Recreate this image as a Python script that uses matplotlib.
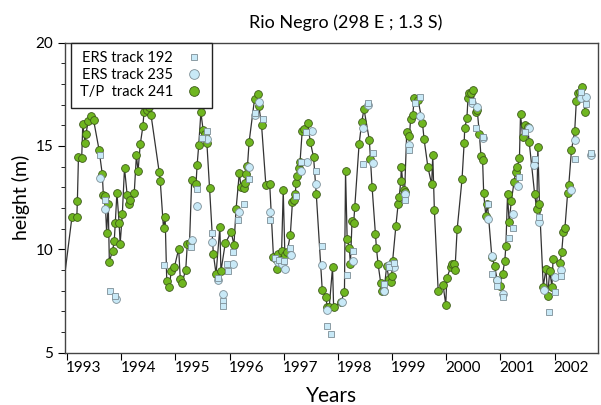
import matplotlib.pyplot as plt
from matplotlib.ticker import MultipleLocator, FixedLocator, NullFormatter, FixedFormatter

plt.rcParams['font.family'] = ['Lato', 'DejaVu Sans']

# T/P track 241 (decimal year, height m)
tp_year = [1992.92, 1993.09, 1993.18, 1993.19, 1993.21, 1993.27, 1993.29, 1993.33, 1993.35,
           1993.39, 1993.44, 1993.49, 1993.59, 1993.65, 1993.67, 1993.70, 1993.73, 1993.76,
           1993.78, 1993.84, 1993.87, 1993.89, 1993.92, 1993.96, 1993.98, 1994.02, 1994.06,
           1994.11, 1994.14, 1994.17, 1994.24, 1994.28, 1994.31, 1994.35, 1994.40, 1994.42,
           1994.47, 1994.52, 1994.55, 1994.70, 1994.72, 1994.78, 1994.81, 1994.84, 1994.89,
           1994.92, 1994.98, 1995.06, 1995.09, 1995.12, 1995.19, 1995.22, 1995.26, 1995.30,
           1995.38, 1995.40, 1995.43, 1995.47, 1995.51, 1995.54, 1995.58, 1995.63, 1995.70,
           1995.75, 1995.82, 1995.84, 1995.92, 1996.03, 1996.08, 1996.12, 1996.18, 1996.21,
           1996.26, 1996.29, 1996.31, 1996.33, 1996.36, 1996.46, 1996.52, 1996.54, 1996.59,
           1996.67, 1996.74, 1996.81, 1996.85, 1996.87, 1996.89, 1996.94, 1996.96, 1996.99,
           1997.02, 1997.06, 1997.12, 1997.16, 1997.18, 1997.21, 1997.23, 1997.25, 1997.28,
           1997.30, 1997.34, 1997.38, 1997.44, 1997.49, 1997.55, 1997.60, 1997.71, 1997.78,
           1997.80, 1997.84, 1997.90, 1997.92, 1998.05, 1998.12, 1998.14, 1998.17, 1998.21,
           1998.23, 1998.26, 1998.29, 1998.31, 1998.39, 1998.44, 1998.48, 1998.58, 1998.60,
           1998.63, 1998.69, 1998.71, 1998.74, 1998.79, 1998.82, 1998.85, 1998.90, 1998.94,
           1998.97, 1998.99, 1999.01, 1999.07, 1999.11, 1999.13, 1999.16, 1999.17, 1999.21,
           1999.23, 1999.27, 1999.32, 1999.34, 1999.38, 1999.41, 1999.48, 1999.56, 1999.59,
           1999.66, 1999.73, 1999.75, 1999.78, 1999.85, 1999.94, 1999.99, 2000.01, 2000.08,
           2000.11, 2000.14, 2000.16, 2000.20, 2000.29, 2000.33, 2000.34, 2000.38, 2000.40,
           2000.42, 2000.45, 2000.49, 2000.54, 2000.57, 2000.61, 2000.64, 2000.67, 2000.69,
           2000.73, 2000.76, 2000.84, 2000.89, 2000.94, 2000.99, 2001.04, 2001.08, 2001.10,
           2001.13, 2001.16, 2001.20, 2001.25, 2001.28, 2001.31, 2001.35, 2001.37, 2001.41,
           2001.45, 2001.50, 2001.53, 2001.63, 2001.67, 2001.69, 2001.72, 2001.79, 2001.84,
           2001.87, 2001.91, 2001.95, 2001.97, 2002.10, 2002.13, 2002.16, 2002.19, 2002.24,
           2002.26, 2002.31, 2002.37, 2002.40, 2002.43, 2002.47, 2002.51, 2002.56]
tp_height = [8.0, 11.56, 11.58, 12.32, 14.46, 14.42, 16.05, 15.16, 15.6,
             16.21, 16.44, 16.24, 14.82, 13.63, 12.61, 12.6, 10.8, 12.17,
             9.41, 9.94, 10.39, 11.27, 12.74, 11.29, 10.27, 11.72, 13.93,
             12.61, 12.2, 12.37, 12.74, 14.55, 13.77, 15.07, 15.95, 16.65,
             16.73, 16.86, 16.49, 13.74, 13.3, 11.01, 11.56, 8.46, 8.16,
             8.94, 9.13, 10.02, 8.57, 8.38, 9.0, 10.27, 10.3, 13.33,
             13.17, 14.06, 15.03, 16.63, 15.79, 15.6, 15.16, 12.96, 9.78,
             8.81, 11.07, 8.94, 10.3, 10.83, 10.22, 11.97, 13.71, 13.01,
             12.95, 13.2, 13.63, 14.03, 15.19, 17.26, 17.49, 16.92, 16.0,
             13.09, 13.17, 9.62, 9.52, 9.05, 9.78, 9.49, 9.91, 12.85,
             9.75, 9.86, 10.67, 12.28, 12.39, 12.69, 13.19, 13.53, 13.95,
             14.22, 15.72, 15.8, 16.11, 15.19, 14.46, 12.66, 8.04, 7.68,
             7.19, 7.23, 9.13, 7.23, 7.44, 7.92, 13.79, 10.49, 10.07,
             9.3, 11.36, 11.27, 12.04, 15.08, 16.16, 16.79, 15.27, 14.39,
             13.01, 10.75, 10.07, 9.3, 8.36, 7.97, 8.0, 9.2, 8.57,
             8.41, 8.7, 9.46, 11.15, 12.17, 12.53, 13.3, 13.98, 12.85,
             12.75, 15.68, 15.47, 16.28, 16.49, 17.3, 17.21, 16.11, 15.32,
             13.98, 13.14, 14.56, 11.88, 8.0, 8.29, 7.32, 8.62, 9.13,
             9.3, 9.3, 9.01, 10.96, 13.38, 15.16, 15.87, 16.33, 17.3,
             17.57, 17.55, 17.7, 16.62, 16.75, 15.6, 14.5, 14.3, 12.72,
             11.6, 12.2, 9.65, 9.21, 8.52, 8.25, 8.81, 9.46, 10.18,
             12.66, 11.31, 12.33, 13.25, 13.74, 13.98, 14.42, 16.53, 15.43,
             16.0, 15.92, 15.19, 12.69, 11.93, 14.95, 12.17, 8.2, 9.06,
             7.76, 8.97, 8.16, 9.51, 9.35, 9.86, 10.83, 11.04, 12.74,
             13.09, 14.79, 15.72, 17.16, 17.54, 17.62, 17.86, 16.65]

# ERS track 192
e192_year = [1993.60, 1993.70, 1993.79, 1993.88, 1994.79, 1995.29, 1995.40, 1995.49,
             1995.58, 1995.68, 1995.78, 1995.88, 1995.88, 1995.96, 1995.97, 1996.06,
             1996.16, 1996.26, 1996.36, 1996.46, 1996.61, 1996.74, 1996.83, 1996.91,
             1997.00, 1997.12, 1997.22, 1997.32, 1997.41, 1997.60, 1997.70, 1997.79,
             1997.88, 1998.17, 1998.27, 1998.47, 1998.56, 1998.65, 1998.85, 1998.95,
             1999.04, 1999.23, 1999.32, 1999.42, 1999.51, 2000.48, 2000.55, 2000.67,
             2000.77, 2000.85, 2000.94, 2001.04, 2001.15, 2001.24, 2001.34, 2001.45,
             2001.63, 2001.72, 2001.89, 2002.01, 2002.11, 2002.38, 2002.48, 2002.57,
             2002.68]
e192_height = [14.55, 12.37, 8.0, 7.76, 9.25, 10.12, 12.93, 15.36,
               15.72, 10.78, 8.6, 7.48, 7.27, 9.3, 8.95, 9.86,
               11.43, 12.2, 13.38, 16.6, 16.28, 11.43, 9.6, 9.5,
               9.45, 10.07, 12.6, 14.2, 15.65, 13.77, 10.18, 6.31,
               5.9, 8.76, 9.94, 14.11, 17.1, 14.66, 8.33, 9.13,
               9.35, 12.41, 14.79, 17.08, 17.37, 17.16, 15.87, 15.45,
               12.2, 8.81, 8.25, 7.68, 10.56, 11.04, 13.5, 15.68,
               14.39, 11.56, 6.95, 7.92, 8.73, 14.35, 17.62, 17.02,
               14.66]

# ERS track 235
e235_year = [1993.61, 1993.70, 1993.90, 1995.31, 1995.40, 1995.58, 1995.68, 1995.78,
             1995.87, 1996.06, 1996.17, 1996.36, 1996.46, 1996.55, 1996.74, 1996.89,
             1996.97, 1997.03, 1997.13, 1997.32, 1997.42, 1997.52, 1997.60, 1997.70,
             1997.80, 1998.08, 1998.27, 1998.46, 1998.56, 1998.65, 1998.85, 1998.95,
             1999.04, 1999.23, 1999.32, 1999.52, 2000.48, 2000.57, 2000.67, 2000.77,
             2000.84, 2000.94, 2001.04, 2001.23, 2001.33, 2001.52, 2001.62, 2001.72,
             2001.80, 2002.01, 2002.11, 2002.30, 2002.38, 2002.48, 2002.58, 2002.68]
e235_height = [13.47, 11.94, 7.6, 10.47, 12.11, 15.32, 10.34, 8.5,
               7.84, 9.3, 11.8, 13.98, 16.5, 17.13, 11.8, 9.4,
               9.3, 9.05, 9.75, 13.77, 14.21, 15.71, 13.17, 9.25,
               7.07, 7.44, 9.42, 15.88, 16.97, 14.19, 7.97, 9.22,
               9.13, 12.69, 15.03, 16.45, 17.07, 16.89, 15.39, 11.47,
               9.7, 8.52, 7.84, 11.72, 13.04, 15.88, 14.06, 11.31,
               8.04, 8.65, 9.0, 12.85, 15.31, 17.3, 17.37, 14.55]

years = list(range(1993, 2003))

fig = plt.figure(figsize=(6.01, 4.05), dpi=100)
ax = fig.add_axes([0.108, 0.129, 0.887, 0.766])

# line through all T/P points (first one lies left of the frame), markers for visible ones
ax.plot(tp_year, tp_height, color='#333333', lw=0.9, zorder=2)
ax.plot(tp_year[1:], tp_height[1:], ls='none', marker='o', ms=5.6, mfc='#6fb620',
        mec='#3d5a1a', mew=0.6, zorder=3)
ax.plot(e235_year, e235_height, ls='none', marker='o', ms=5.6, mfc='#c8e9f7',
        mec='#7d8e96', mew=0.6, zorder=4)
ax.plot(e192_year, e192_height, ls='none', marker='s', ms=3.8, mfc='#c8e9f7',
        mec='#7d8e96', mew=0.6, zorder=5)

# legend
h1, = ax.plot([], [], ls='none', marker='s', ms=4.5, mfc='#c8e9f7', mec='#7d8e96', mew=0.6)
h2, = ax.plot([], [], ls='none', marker='o', ms=7, mfc='#c8e9f7', mec='#7d8e96', mew=0.6)
h3, = ax.plot([], [], ls='none', marker='o', ms=7, mfc='#6fb620', mec='#3d5a1a', mew=0.6)
leg = ax.legend([h1, h2, h3], ['ERS track 192', 'ERS track 235', 'T/P  track 241'],
                loc='upper left', markerfirst=False, fancybox=False, framealpha=1,
                edgecolor='#222222', fontsize=10.5, borderpad=0.6, labelspacing=0.2,
                handletextpad=0.8, handlelength=1.3, borderaxespad=0.0,
                bbox_to_anchor=(0.011, 1.0))
leg.get_frame().set_linewidth(1.0)
for t in leg.get_texts():
    t.set_ha('right')

ax.set_xlim(1992.96, 2002.8)
ax.set_ylim(5, 20)

ax.xaxis.set_major_locator(FixedLocator(years))
ax.xaxis.set_major_formatter(NullFormatter())
ax.xaxis.set_minor_locator(FixedLocator([y + 0.31 for y in years]))
ax.xaxis.set_minor_formatter(FixedFormatter([str(y) for y in years]))
ax.tick_params(axis='x', which='major', direction='out', length=5, width=0.8)
ax.tick_params(axis='x', which='minor', length=0, labelsize=11, pad=6)

ax.yaxis.set_major_locator(MultipleLocator(5))
ax.yaxis.set_minor_locator(MultipleLocator(1))
ax.tick_params(axis='y', which='major', direction='out', length=5, width=0.8, labelsize=11)
ax.tick_params(axis='y', which='minor', direction='out', length=3, width=0.6)

for s in ax.spines.values():
    s.set_color('#444444')
    s.set_linewidth(1.0)

ax.set_xlabel('Years', fontsize=15, labelpad=8)
ax.set_ylabel('height (m)', fontsize=14, labelpad=4)
fig.text(0.575, 0.945, 'Rio Negro (298 E ; 1.3 S)', ha='center', va='center', fontsize=13)

fig.savefig('out.png', dpi=100)
